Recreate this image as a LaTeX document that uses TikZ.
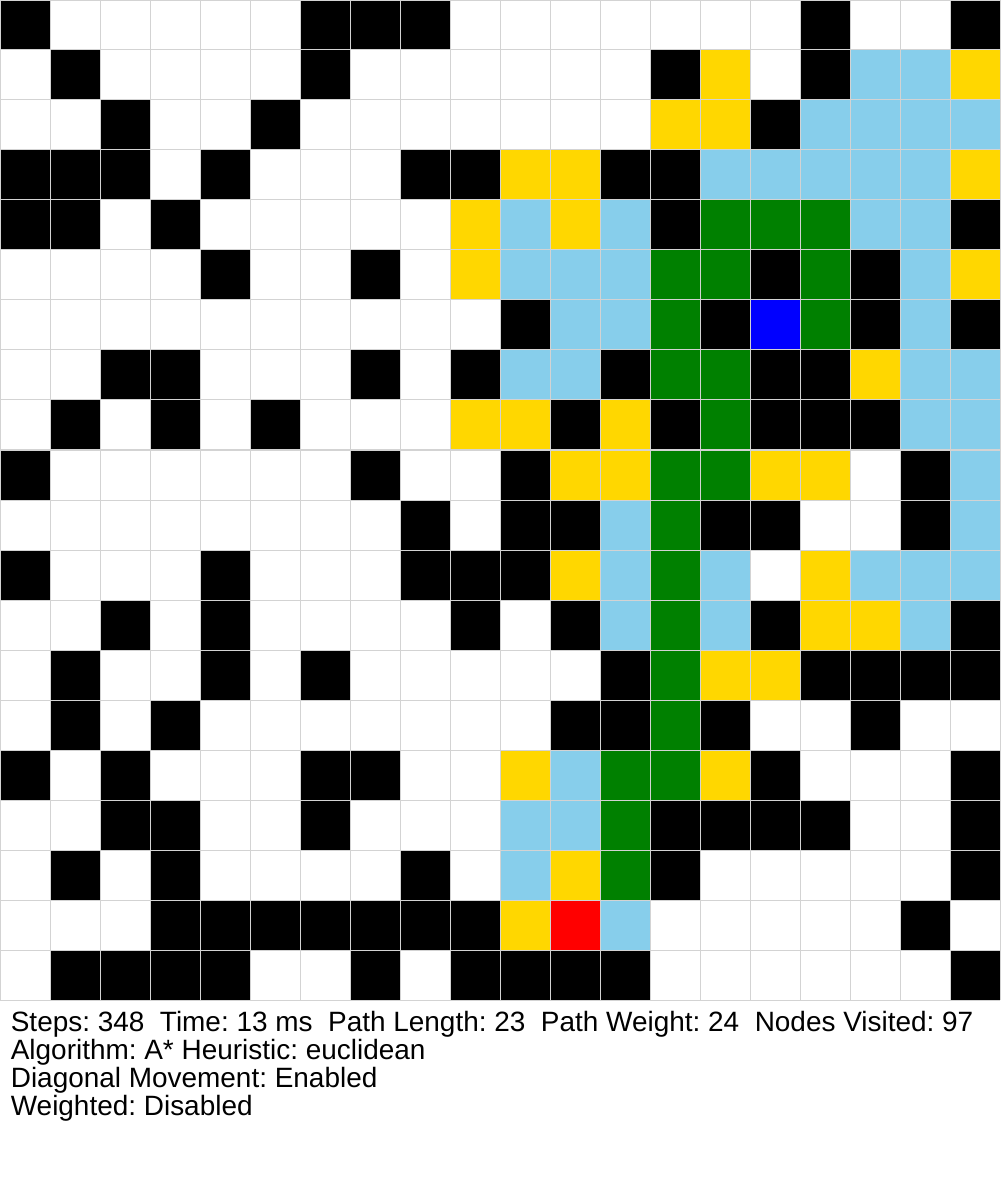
\documentclass[tikz,border=0pt]{standalone}
\usepackage{fontspec}
\setmainfont{Liberation Sans}
\usepackage{tikz}
\definecolor{gridgray}{HTML}{D3D3D3}
\definecolor{opengold}{HTML}{FFD700}
\definecolor{closedsky}{HTML}{87CEEB}
\definecolor{pathgreen}{HTML}{008000}

\begin{document}
\begin{tikzpicture}[
        wallcell/.style = {fill = black},
        opencell/.style = {fill = opengold},
        closedcell/.style = {fill = closedsky},
        pathcell/.style = {fill = pathgreen},
        statline/.style = {anchor = base west, inner sep = 0pt, font = \fontsize{15.9}{15.9}\selectfont\frenchspacing}]
        \useasboundingbox (0,0) rectangle (20,-24);
        \path[fill = white] (0,0) rectangle (20,-24);

        % walls
        \foreach \r/\cols in {0/{0,6,7,8,16,19}, 1/{1,6,13,16}, 2/{2,5,15},
                3/{0,1,2,4,8,9,12,13}, 4/{0,1,3,13,19}, 5/{4,7,15,17},
                6/{10,14,17,19}, 7/{2,3,7,9,12,15,16}, 8/{1,3,5,11,13,15,16,17},
                9/{0,7,10,18}, 10/{8,10,11,14,15,18}, 11/{0,4,8,9,10},
                12/{2,4,9,11,15,19}, 13/{1,4,6,12,16,17,18,19}, 14/{1,3,11,12,14,17},
                15/{0,2,6,7,15,19}, 16/{2,3,6,13,14,15,16,19}, 17/{1,3,8,13,19},
                18/{3,4,5,6,7,8,9,18}, 19/{1,2,3,4,7,9,10,11,12,19}}
            \foreach \c in \cols
                \path[wallcell] (\c,-\r) rectangle ++(1,-1);

        % open set
        \foreach \r/\cols in {1/{14,19}, 2/{13,14}, 3/{10,11,19}, 4/{9,11}, 5/{9,19},
                7/{17}, 8/{9,10,12}, 9/{11,12,15,16}, 11/{11,16}, 12/{16,17},
                13/{14,15}, 15/{10,14}, 17/{11}, 18/{10}}
            \foreach \c in \cols
                \path[opencell] (\c,-\r) rectangle ++(1,-1);

        % closed set
        \foreach \r/\cols in {1/{17,18}, 2/{16,17,18,19}, 3/{14,15,16,17,18},
                4/{10,12,17,18}, 5/{10,11,12,18}, 6/{11,12,18}, 7/{10,11,18,19},
                8/{18,19}, 9/{19}, 10/{12,19}, 11/{12,14,17,18,19}, 12/{12,14,18},
                15/{11}, 16/{10,11}, 17/{10}, 18/{12}}
            \foreach \c in \cols
                \path[closedcell] (\c,-\r) rectangle ++(1,-1);

        % path
        \foreach \r/\cols in {4/{14,15,16}, 5/{13,14,16}, 6/{13,16}, 7/{13,14},
                8/{14}, 9/{13,14}, 10/{13}, 11/{13}, 12/{13}, 13/{13}, 14/{13},
                15/{12,13}, 16/{12}, 17/{12}}
            \foreach \c in \cols
                \path[pathcell] (\c,-\r) rectangle ++(1,-1);

        % start and goal
        \path[fill = blue] (15,-6) rectangle ++(1,-1);
        \path[fill = red] (11,-18) rectangle ++(1,-1);

        % grid
        \path[draw, gridgray, line width = 0.02cm] (0,0) grid (20,-20);

        % stats
        \node[statline] (stats) at (0.21,-20.62) {Steps: 348\ \ Time: 13 ms\ \ Path Length: 23\ \ Path Weight: 24\ \ Nodes Visited: 97};
        \node[statline] (algo) at (0.21,-21.18) {Algorithm: A* Heuristic: euclidean};
        \node[statline] (diag) at (0.21,-21.74) {Diagonal Movement: Enabled};
        \node[statline] (weight) at (0.21,-22.30) {Weighted: Disabled};
\end{tikzpicture}
\end{document}
